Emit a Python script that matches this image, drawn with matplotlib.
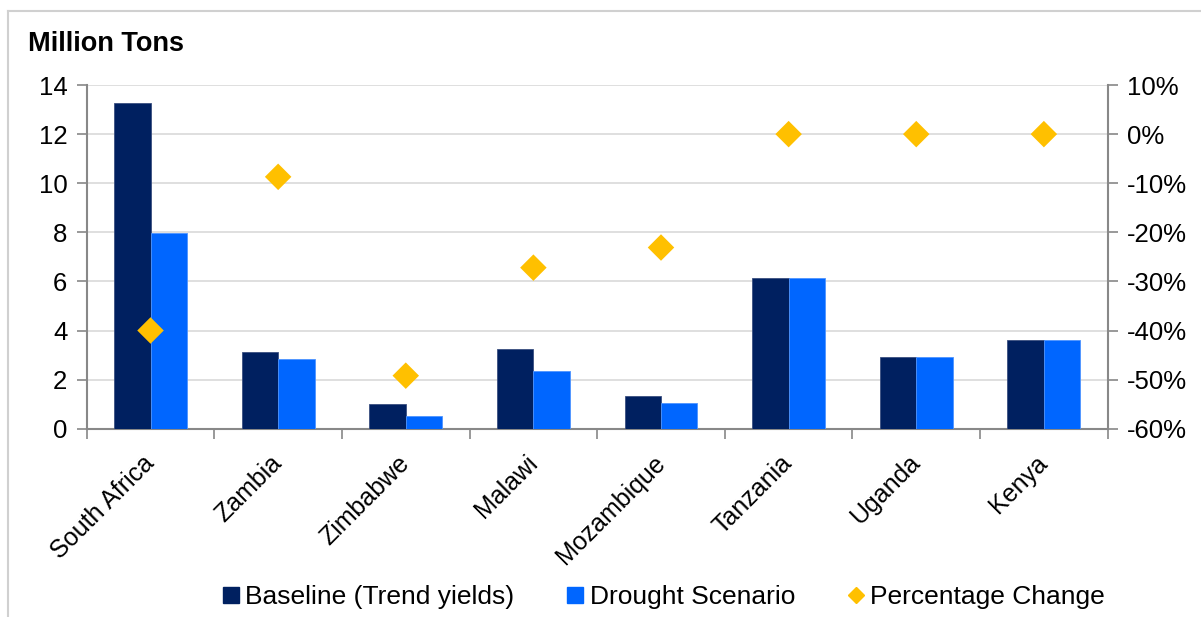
import matplotlib
matplotlib.use("Agg")
import matplotlib.pyplot as plt
from matplotlib.lines import Line2D
from matplotlib.ticker import FuncFormatter
import numpy as np

plt.rcParams['font.family'] = ['Liberation Sans', 'DejaVu Sans']

countries = ["South Africa", "Zambia", "Zimbabwe", "Malawi", "Mozambique",
             "Tanzania", "Uganda", "Kenya"]
baseline = [13.25, 3.12, 0.99, 3.23, 1.34, 6.13, 2.92, 3.63]
drought = [7.96, 2.85, 0.50, 2.35, 1.03, 6.13, 2.92, 3.63]
pct_change = [-40.0, -8.7, -49.2, -27.2, -23.1, 0.0, 0.0, 0.0]

left_ticks = [0, 2, 4, 6, 8, 10, 12, 14]
right_ticks = [-60, -50, -40, -30, -20, -10, 0, 10]

navy = "#002060"
blue = "#0066FF"
gold = "#FFC000"
axis_gray = "#888888"
grid_gray = "#D9D9D9"

fig = plt.figure(figsize=(12.01, 6.17), dpi=100)
ax = fig.add_axes([0.0722, 0.3052, 0.8501, 0.5570])

x = np.arange(len(countries))
w = 0.285
ax.bar(x - w / 2, baseline, width=w, color=navy, edgecolor="#3A4F80",
       linewidth=0.6, zorder=3, label="Baseline (Trend yields)")
ax.bar(x + w / 2, drought, width=w, color=blue, edgecolor="#4D94FF",
       linewidth=0.6, zorder=3, label="Drought Scenario")

ax.set_xlim(-0.5, len(countries) - 0.5)
ax.set_ylim(0, 14)
ax.set_yticks(left_ticks)
ax.grid(axis="y", color=grid_gray, linewidth=1.2, zorder=0)
ax.set_axisbelow(True)

for side in ("top", "right"):
    ax.spines[side].set_visible(False)
for side in ("left", "bottom"):
    ax.spines[side].set_color(axis_gray)
    ax.spines[side].set_linewidth(1.5)

# Category boundaries carry the tick marks; names sit at the centres
ax.set_xticks(np.arange(len(countries) + 1) - 0.5, minor=False)
ax.set_xticklabels([])
ax.set_xticks(x, minor=True)
ax.set_xticklabels(countries, minor=True, rotation=45, ha="right",
                   va="center", rotation_mode="anchor", fontsize=18)
ax.tick_params(axis="x", which="major", direction="out", length=7,
               width=1.2, color=axis_gray)
ax.tick_params(axis="x", which="minor", length=0, pad=22)
ax.tick_params(axis="y", direction="out", length=7, width=1.2,
               color=axis_gray, labelsize=18.5, pad=7)

ax2 = ax.twinx()
ax2.scatter(x, pct_change, marker="D", s=13.5 ** 2, color=gold,
            edgecolor="none", zorder=4, label="Percentage Change",
            clip_on=False)
ax2.set_ylim(-60, 10)
ax2.set_yticks(right_ticks)
ax2.yaxis.set_major_formatter(FuncFormatter(lambda v, p: f"{v:.0f}%"))
for side in ("top", "left", "bottom"):
    ax2.spines[side].set_visible(False)
ax2.spines["right"].set_color(axis_gray)
ax2.spines["right"].set_linewidth(1.5)
ax2.tick_params(axis="y", direction="out", length=7, width=1.2,
                color=axis_gray, labelsize=18.5, pad=7)

fig.text(28 / 1201, 1 - 51 / 617, "Million Tons", fontsize=19.5,
         fontweight="bold", ha="left", va="baseline")

# Outer frame (top and left edges)
fig.add_artist(Line2D([8 / 1201, 1.0], [1 - 11 / 617, 1 - 11 / 617],
                      transform=fig.transFigure, color="#D0D0D0", lw=1.5))
fig.add_artist(Line2D([8 / 1201, 8 / 1201], [0.0, 1 - 11 / 617],
                      transform=fig.transFigure, color="#D0D0D0", lw=1.5))

handles = [
    Line2D([], [], marker="s", linestyle="none", markersize=11,
           markerfacecolor=navy, markeredgecolor=navy),
    Line2D([], [], marker="s", linestyle="none", markersize=11,
           markerfacecolor=blue, markeredgecolor=blue),
    Line2D([], [], marker="D", linestyle="none", markersize=8.5,
           markerfacecolor=gold, markeredgecolor=gold),
]
labels = ["Baseline (Trend yields)", "Drought Scenario", "Percentage Change"]
fig.legend(handles, labels, loc="center", bbox_to_anchor=(664 / 1201, 1 - 597 / 617),
           ncol=3, frameon=False, fontsize=19, handlelength=0.6,
           handletextpad=0.25, columnspacing=2.0)

fig.savefig("out.png", dpi=100)
